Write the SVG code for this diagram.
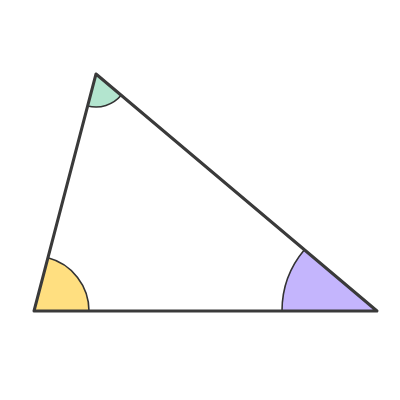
<svg xmlns="http://www.w3.org/2000/svg" width="400" height="400" viewBox="0 0 400 400">
<style>
.arc{stroke:#333;stroke-width:1.6;fill:none}
.tri{fill:none;stroke:#3a3a3a;stroke-width:3;stroke-linejoin:round;stroke-linecap:round}
</style>
<rect width="400" height="400" fill="#fff"/>
<g id="angle-a">
<path d="M34,311 L89,311 A55,55 0 0 0 47.9,257.8 Z" fill="#FFDF80"/>
<path class="arc" d="M89,311 A55,55 0 0 0 47.9,257.8"/>
</g>
<g id="angle-b">
<path d="M96,74 L87.6,105.9 A33,33 0 0 0 121.2,95.3 Z" fill="#B3E5CF"/>
<path class="arc" d="M87.6,105.9 A33,33 0 0 0 121.2,95.3"/>
</g>
<g id="angle-c">
<path d="M377,311 L282,311 A95,95 0 0 1 304.4,249.7 Z" fill="#C4B5FD"/>
<path class="arc" d="M282,311 A95,95 0 0 1 304.4,249.7"/>
</g>
<g id="triangle">
<polygon class="tri" points="34,311 96,74 377,311"/>
</g>
</svg>
